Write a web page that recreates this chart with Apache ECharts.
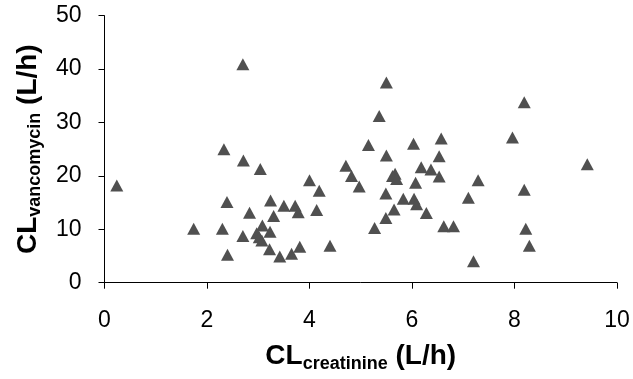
<!DOCTYPE html>
<html>
<head>
<meta charset="utf-8">
<script src="https://cdn.jsdelivr.net/npm/echarts@6/dist/echarts.min.js"></script>
<style>
  html, body { margin: 0; padding: 0; background: #fff; }
  #chart { width: 633px; height: 379px; }
</style>
</head>
<body>
<div id="chart"></div>
<script>
// CL creatinine (L/h), one per patient
const clCreatinine = [
  0.24, 2.70, 2.33, 2.71, 3.04, 4.00, 4.19, 4.71, 4.82, 4.97,
  2.39, 1.74, 2.30, 2.40, 2.70, 2.83, 3.24, 3.50, 3.72, 3.78,
  3.30, 4.14, 3.08, 3.23, 2.97, 3.02, 3.07, 3.22, 3.42, 3.65,
  3.81, 4.40,
  5.50, 5.36, 8.19, 5.15, 6.03, 6.57, 7.96, 5.50, 6.53, 9.42,
  6.18, 6.37, 6.53, 5.67, 5.62, 5.70, 6.07, 7.29, 8.19, 5.49,
  5.83, 6.04, 6.09, 7.10, 5.65, 5.49, 6.28, 5.27, 6.62, 6.81,
  8.22, 8.29, 7.20
]
// CL vancomycin (L/h), same order
const clVancomycin = [
  18.2, 40.9, 25.0, 22.9, 21.3, 19.2, 17.2, 21.9, 20.0, 18.0,
  15.1, 10.1, 10.1, 5.25, 8.75, 13.1, 15.4, 14.4, 14.4, 13.2,
  12.5, 13.6, 10.7, 9.55, 9.25, 8.5, 7.9, 6.25, 4.9, 5.4,
  6.75, 6.9,
  37.5, 31.2, 33.8, 25.8, 26.0, 27.0, 27.2, 23.8, 23.7, 22.2,
  21.6, 21.2, 19.9, 20.4, 20.0, 19.4, 18.7, 19.2, 17.4, 16.7,
  15.7, 15.7, 14.7, 15.9, 13.7, 12.1, 13.05, 10.25, 10.55, 10.55,
  10.1, 6.9, 4.0
]
const xTicks = [0, 2, 4, 6, 8, 10]
const yTicks = [0, 10, 20, 30, 40, 50]

const points = clCreatinine.map((x, i) => [x, clVancomycin[i]])

const font = '"Liberation Sans", Arial, sans-serif'
const titleRich = {
  m: { fontFamily: font, fontWeight: 'bold', fontSize: 28, lineHeight: 30, verticalAlign: 'top', color: '#000' },
  s: { fontFamily: font, fontWeight: 'bold', fontSize: 18, lineHeight: 13, verticalAlign: 'bottom', color: '#000' }
}
const axisCommon = {
  axisLine: { show: true, lineStyle: { color: '#000', width: 1 } },
  axisTick: { show: true, inside: false, length: 6, lineStyle: { color: '#000', width: 1 } },
  splitLine: { show: false },
  nameLocation: 'middle'
}

const myChart = echarts.init(document.getElementById('chart'), null, { renderer: 'canvas' })
myChart.setOption({
  animation: false,
  backgroundColor: '#fff',
  grid: { left: 104.5, right: 16, top: 15.7, bottom: 96.3, containLabel: false },
  xAxis: Object.assign({}, axisCommon, {
    type: 'value',
    min: xTicks[0],
    max: xTicks[xTicks.length - 1],
    interval: xTicks[1] - xTicks[0],
    axisLabel: { margin: 26, fontFamily: font, fontSize: 23, color: '#000' },
    name: '{m|CL}{s|creatinine}{m| (L/h)}',
    nameGap: 60,
    nameTextStyle: { rich: titleRich }
  }),
  yAxis: Object.assign({}, axisCommon, {
    type: 'value',
    min: yTicks[0],
    max: yTicks[yTicks.length - 1],
    interval: yTicks[1] - yTicks[0],
    axisLabel: { margin: 23, fontFamily: font, fontSize: 23, color: '#000' },
    name: '{m|CL}{s|vancomycin}{m| (L/h)}',
    nameGap: 60,
    nameTextStyle: { rich: titleRich }
  }),
  series: [{
    type: 'scatter',
    data: points,
    symbol: 'triangle',
    symbolSize: [13, 12],
    itemStyle: { color: '#505050', opacity: 1 }
  }]
})
</script>
</body>
</html>
